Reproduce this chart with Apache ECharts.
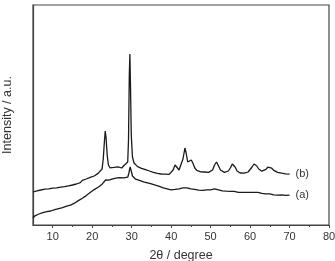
<!DOCTYPE html>
<html lang="en">
<head>
    <meta charset="UTF-8">
    <title>XRD</title>
    <script src="https://cdn.jsdelivr.net/npm/echarts@6/dist/echarts.min.js"></script>
    <style>
        html, body { margin: 0; padding: 0; background: #fff; }
    </style>
</head>
<body>
    <div id="main" style="width: 335px;height: 261px"></div>
    <script type="text/javascript">
        // x轴刻度（主刻度 + 次刻度）
        var xTicks = [10, 20, 30, 40, 50, 60, 70, 80];
        var xMinorTicks = [15, 25, 35, 45, 55, 65, 75];
        // (b) 曲线 [2θ, 强度]
        var curveB = [
            [5, 33], [5.5, 34.6], [6, 34.2], [6.5, 35.5], [7, 35], [7.5, 36.4], [8, 35.8], [8.5, 37], [9, 36.2], [9.5, 37.4],
            [10, 36.8], [10.5, 38], [11, 37.2], [11.5, 38.4], [12, 37.8], [12.5, 39], [13, 38.4], [13.5, 40], [14, 39.2], [14.5, 40.6],
            [15, 40], [15.5, 41.6], [16, 41], [16.5, 43], [17, 42.4], [17.5, 44.6], [18, 43.8], [18.5, 46], [19, 45.4], [19.5, 47.6],
            [20, 46.8], [20.5, 49], [21, 48.8], [21.5, 51.6], [22, 52], [22.5, 56], [22.8, 66], [23.1, 84], [23.3, 94], [23.5, 88],
            [23.8, 70], [24.1, 60], [24.5, 57.2], [25, 55.6], [25.5, 57.6], [26, 56], [26.5, 58.2], [27, 59], [27.5, 57], [28, 59.2],
            [28.5, 58.6], [29, 63], [29.2, 85], [29.4, 150], [29.55, 171], [29.7, 140], [29.9, 90], [30.2, 68], [30.6, 62], [31, 60.6],
            [31.5, 58.4], [32, 59], [32.5, 56.6], [33, 57.6], [33.5, 55.4], [34, 56], [34.5, 54], [35, 54.8], [35.5, 52.6], [36, 53.6],
            [36.5, 51.6], [37, 52.6], [37.5, 51], [38, 51.8], [38.5, 50.8], [39, 51.6], [39.5, 50.6], [40, 52.4], [40.5, 55], [41, 60],
            [41.2, 61], [41.5, 58], [42, 55], [42.5, 57], [43, 66], [43.5, 77], [43.8, 72], [44.2, 63], [44.6, 62], [45.1, 65],
            [45.5, 62], [46, 57], [46.5, 54.6], [47, 52.6], [47.5, 53.2], [48, 52.4], [48.5, 53], [49, 51.8], [49.5, 52.6], [50, 52.8],
            [50.5, 55], [51, 60], [51.5, 63], [52, 59], [52.5, 55], [53, 53.6], [53.5, 52.6], [54, 53.8], [54.5, 54], [55, 57],
            [55.5, 61], [55.8, 62], [56.2, 58], [56.7, 54], [57, 53.4], [57.5, 52], [58, 52.8], [58.5, 51.8], [59, 52.6], [59.5, 53],
            [60, 55], [60.5, 58], [61, 61], [61.3, 62], [61.7, 59], [62.2, 56], [62.7, 54.8], [63, 53.8], [63.5, 55.4], [64, 55.6],
            [64.5, 57.8], [65, 57.6], [65.5, 56.8], [66, 54.6], [66.5, 54.4], [67, 52.6], [67.5, 53.4], [68, 51.8], [68.5, 52.8], [69, 51.2],
            [69.5, 51.6], [70, 50.8]
        ];
        // (a) 曲线 [2θ, 强度]
        var curveA = [
            [5, 7], [5.5, 9.2], [6, 9.8], [6.5, 11], [7, 11.2], [7.5, 12.4], [8, 12.2], [8.5, 13.4], [9, 13.2], [9.5, 14],
            [10, 14.2], [10.5, 15.4], [11, 15.2], [11.5, 16.4], [12, 16.2], [12.5, 17.4], [13, 17.2], [13.5, 18.8], [14, 18.8], [14.5, 19.8],
            [15, 20.2], [15.5, 21.8], [16, 22.2], [16.5, 24.4], [17, 24.8], [17.5, 26.8], [18, 27.6], [18.5, 29.4], [19, 30.2], [19.5, 32.4],
            [20, 33.2], [20.5, 35.4], [21, 35.8], [21.5, 37.8], [22, 38.6], [22.5, 40.8], [23, 41.8], [23.4, 45], [23.8, 43], [24.2, 44.8],
            [24.7, 44.6], [25, 45.8], [25.5, 45.6], [26, 46.8], [26.5, 46.6], [27, 47.4], [27.5, 47.2], [28, 47.2], [28.5, 47.8], [29, 47.8],
            [29.3, 52], [29.6, 58], [29.9, 54], [30.2, 49], [30.6, 47.2], [31, 45.8], [31.5, 45.8], [32, 44.6], [32.5, 44.4], [33, 43.2],
            [33.5, 43.4], [34, 42.2], [34.5, 42.4], [35, 41.2], [35.5, 40.8], [36, 39.8], [36.5, 39.8], [37, 38.6], [37.5, 38.4], [38, 37.2],
            [38.5, 37.4], [39, 36.2], [39.5, 36.4], [40, 35.2], [40.5, 35.8], [41, 35.6], [41.5, 36.4], [42, 36.2], [42.5, 37.4], [43, 37.2],
            [43.5, 38.4], [44, 37.2], [44.5, 37.4], [45, 36.2], [45.5, 36.8], [46, 35.6], [46.5, 35.8], [47, 34.8], [47.5, 35.8], [48, 34.6],
            [48.5, 35.4], [49, 35.2], [49.5, 35.8], [50, 35.2], [50.5, 36.4], [51, 36.2], [51.5, 36.4], [52, 35.2], [52.5, 35.4], [53, 34.2],
            [53.5, 34.8], [54, 33.8], [54.5, 34.8], [55, 33.6], [55.5, 33.8], [56, 33.6], [56.5, 33.8], [57, 32.6], [57.5, 33.8], [58, 32.6],
            [58.5, 32.8], [59, 32.6], [59.5, 33.8], [60, 32.6], [60.5, 32.8], [61, 32.6], [61.5, 33.8], [62, 32.6], [62.5, 32.8], [63, 31.6],
            [63.5, 31.8], [64, 31.2], [64.5, 31.4], [65, 31.2], [65.5, 31.2], [66, 30.2], [66.5, 30.8], [67, 29.8], [67.5, 31.2], [68, 30.2],
            [68.5, 30.4], [69, 29.6], [69.5, 30.6], [70, 29.8]
        ];

        var myChart = echarts.init(document.getElementById('main'));
        var axisColor = '#444';
        var lineColor = '#1a1a1a';
        var font = 'Liberation Sans';

        option = {
            backgroundColor: '#fff',
            animation: false,
            grid: {
                left: 33, right: 6, top: 5, bottom: 36,
                outerBoundsMode: 'none',
                containLabel: false,
                show: true, borderColor: axisColor, borderWidth: 1.2
            },
            xAxis: [{
                type: 'value',
                min: 5, max: 80,
                name: '2θ / degree',
                nameLocation: 'middle',
                nameGap: 24,
                nameTextStyle: { fontFamily: font, fontSize: 12.5, color: '#333' },
                axisLine: { show: true, lineStyle: { color: axisColor, width: 1.2 } },
                axisTick: { show: true, length: 3, customValues: xTicks, lineStyle: { color: axisColor } },
                axisLabel: {
                    margin: 6, fontFamily: font, fontSize: 11, color: '#333',
                    customValues: xTicks
                },
                splitLine: { show: false }
            }, {
                // 次刻度
                type: 'value',
                position: 'bottom',
                min: 5, max: 80,
                axisLine: { show: false },
                axisTick: { show: true, length: 2, customValues: xMinorTicks, lineStyle: { color: axisColor } },
                axisLabel: { show: false },
                splitLine: { show: false }
            }],
            yAxis: {
                type: 'value',
                min: 0, max: 220,
                name: 'Intensity / a.u.',
                nameLocation: 'middle',
                nameGap: 19,
                nameTextStyle: { fontFamily: font, fontSize: 12.5, color: '#333' },
                axisLine: { show: true, lineStyle: { color: axisColor, width: 1.2 } },
                axisTick: { show: false },
                axisLabel: { show: false },
                splitLine: { show: false }
            },
            series: [{
                type: 'line',
                data: curveB,
                showSymbol: false,
                lineStyle: { color: lineColor, width: 1.3 },
                endLabel: {
                    show: true, formatter: '(b)', distance: 6,
                    fontFamily: font, fontSize: 11, color: '#333'
                }
            }, {
                type: 'line',
                data: curveA,
                showSymbol: false,
                lineStyle: { color: lineColor, width: 1.3 },
                endLabel: {
                    show: true, formatter: '(a)', distance: 6,
                    fontFamily: font, fontSize: 11, color: '#333'
                }
            }]
        };
        myChart.setOption(option);
    </script>
</body>
</html>
